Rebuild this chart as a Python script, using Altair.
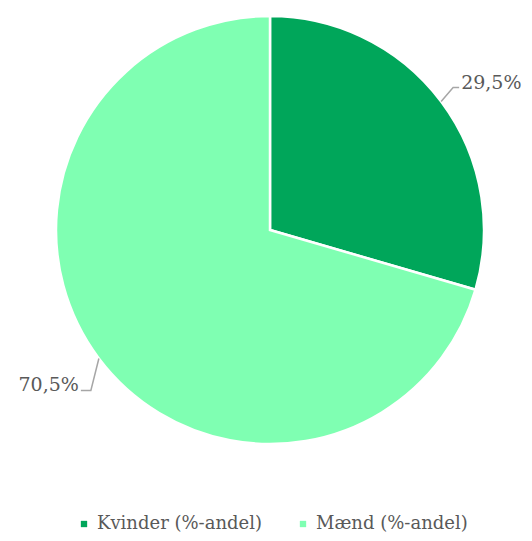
import math
import altair as alt
import pandas as pd

categories = ["Kvinder (%-andel)", "Mænd (%-andel)"]
values = [29.5, 70.5]
labels = ["29,5%", "70,5%"]
colors = ["#00A65A", "#7FFFB2"]

CX, CY, R = 262, 222, 214
# leader-line elbow offsets (styling) per label: (dx, dy, horizontal length)
LEADER = [(12, -14, 6), (-8, 32, 10)]

df = pd.DataFrame({"cat": categories, "val": values, "order": [0, 1]})

pie = alt.Chart(df).mark_arc(stroke="white", strokeWidth=2.5, radius=R).encode(
    theta=alt.Theta("val:Q", stack=True),
    order=alt.Order("order:Q"),
    color=alt.Color(
        "cat:N",
        scale=alt.Scale(domain=categories, range=colors),
        sort=categories,
        legend=alt.Legend(
            title=None,
            orient="none",
            legendX=67,
            legendY=507,
            direction="horizontal",
            symbolType="square",
            symbolSize=40,
            symbolStrokeWidth=0,
            labelFont="DejaVu Serif",
            labelFontSize=18,
            labelColor="#595959",
            labelOffset=4,
            columnPadding=32,
            labelLimit=300,
        ),
    ),
    x=alt.value(CX),
    y=alt.value(CY),
)

rows_line = []
rows_text = []
cum = 0.0
total = sum(values)
for i, (v, lab) in enumerate(zip(values, labels)):
    mid = (cum + v / 2) / total * 2 * math.pi
    cum += v
    sx, sy = CX + R * math.sin(mid), CY - R * math.cos(mid)
    ddx, ddy, hl = LEADER[i]
    ex, ey = sx + ddx, sy + ddy
    side = 1 if math.sin(mid) > 0 else -1
    hx = ex + side * hl
    for k, (px, py) in enumerate([(sx, sy), (ex, ey), (hx, ey)]):
        rows_line.append({"g": i, "k": k, "x": px, "y": py})
    rows_text.append({"x": hx + side * 2, "y": ey + 1, "t": lab, "align": "left" if side > 0 else "right"})

lines = alt.Chart(pd.DataFrame(rows_line)).mark_line(color="#A6A6A6", strokeWidth=1.5).encode(
    x=alt.X("x:Q", scale=None, axis=None),
    y=alt.Y("y:Q", scale=None, axis=None),
    detail="g:N",
    order="k:Q",
)

tdf = pd.DataFrame(rows_text)
text_r = alt.Chart(tdf[tdf["align"] == "left"]).mark_text(
    align="left", baseline="alphabetic", font="DejaVu Serif", fontSize=19, color="#595959"
).encode(x=alt.X("x:Q", scale=None, axis=None), y=alt.Y("y:Q", scale=None, axis=None), text="t:N")
text_l = alt.Chart(tdf[tdf["align"] == "right"]).mark_text(
    align="right", baseline="alphabetic", font="DejaVu Serif", fontSize=19, color="#595959"
).encode(x=alt.X("x:Q", scale=None, axis=None), y=alt.Y("y:Q", scale=None, axis=None), text="t:N")

chart = alt.layer(pie, lines, text_r, text_l).properties(
    width=516, height=525, autosize=alt.AutoSizeParams(type="none"), padding=0
).configure(background="white").configure_view(stroke=None, strokeWidth=0)

chart.save("out.html", embed_options={"renderer": "svg", "actions": False})
